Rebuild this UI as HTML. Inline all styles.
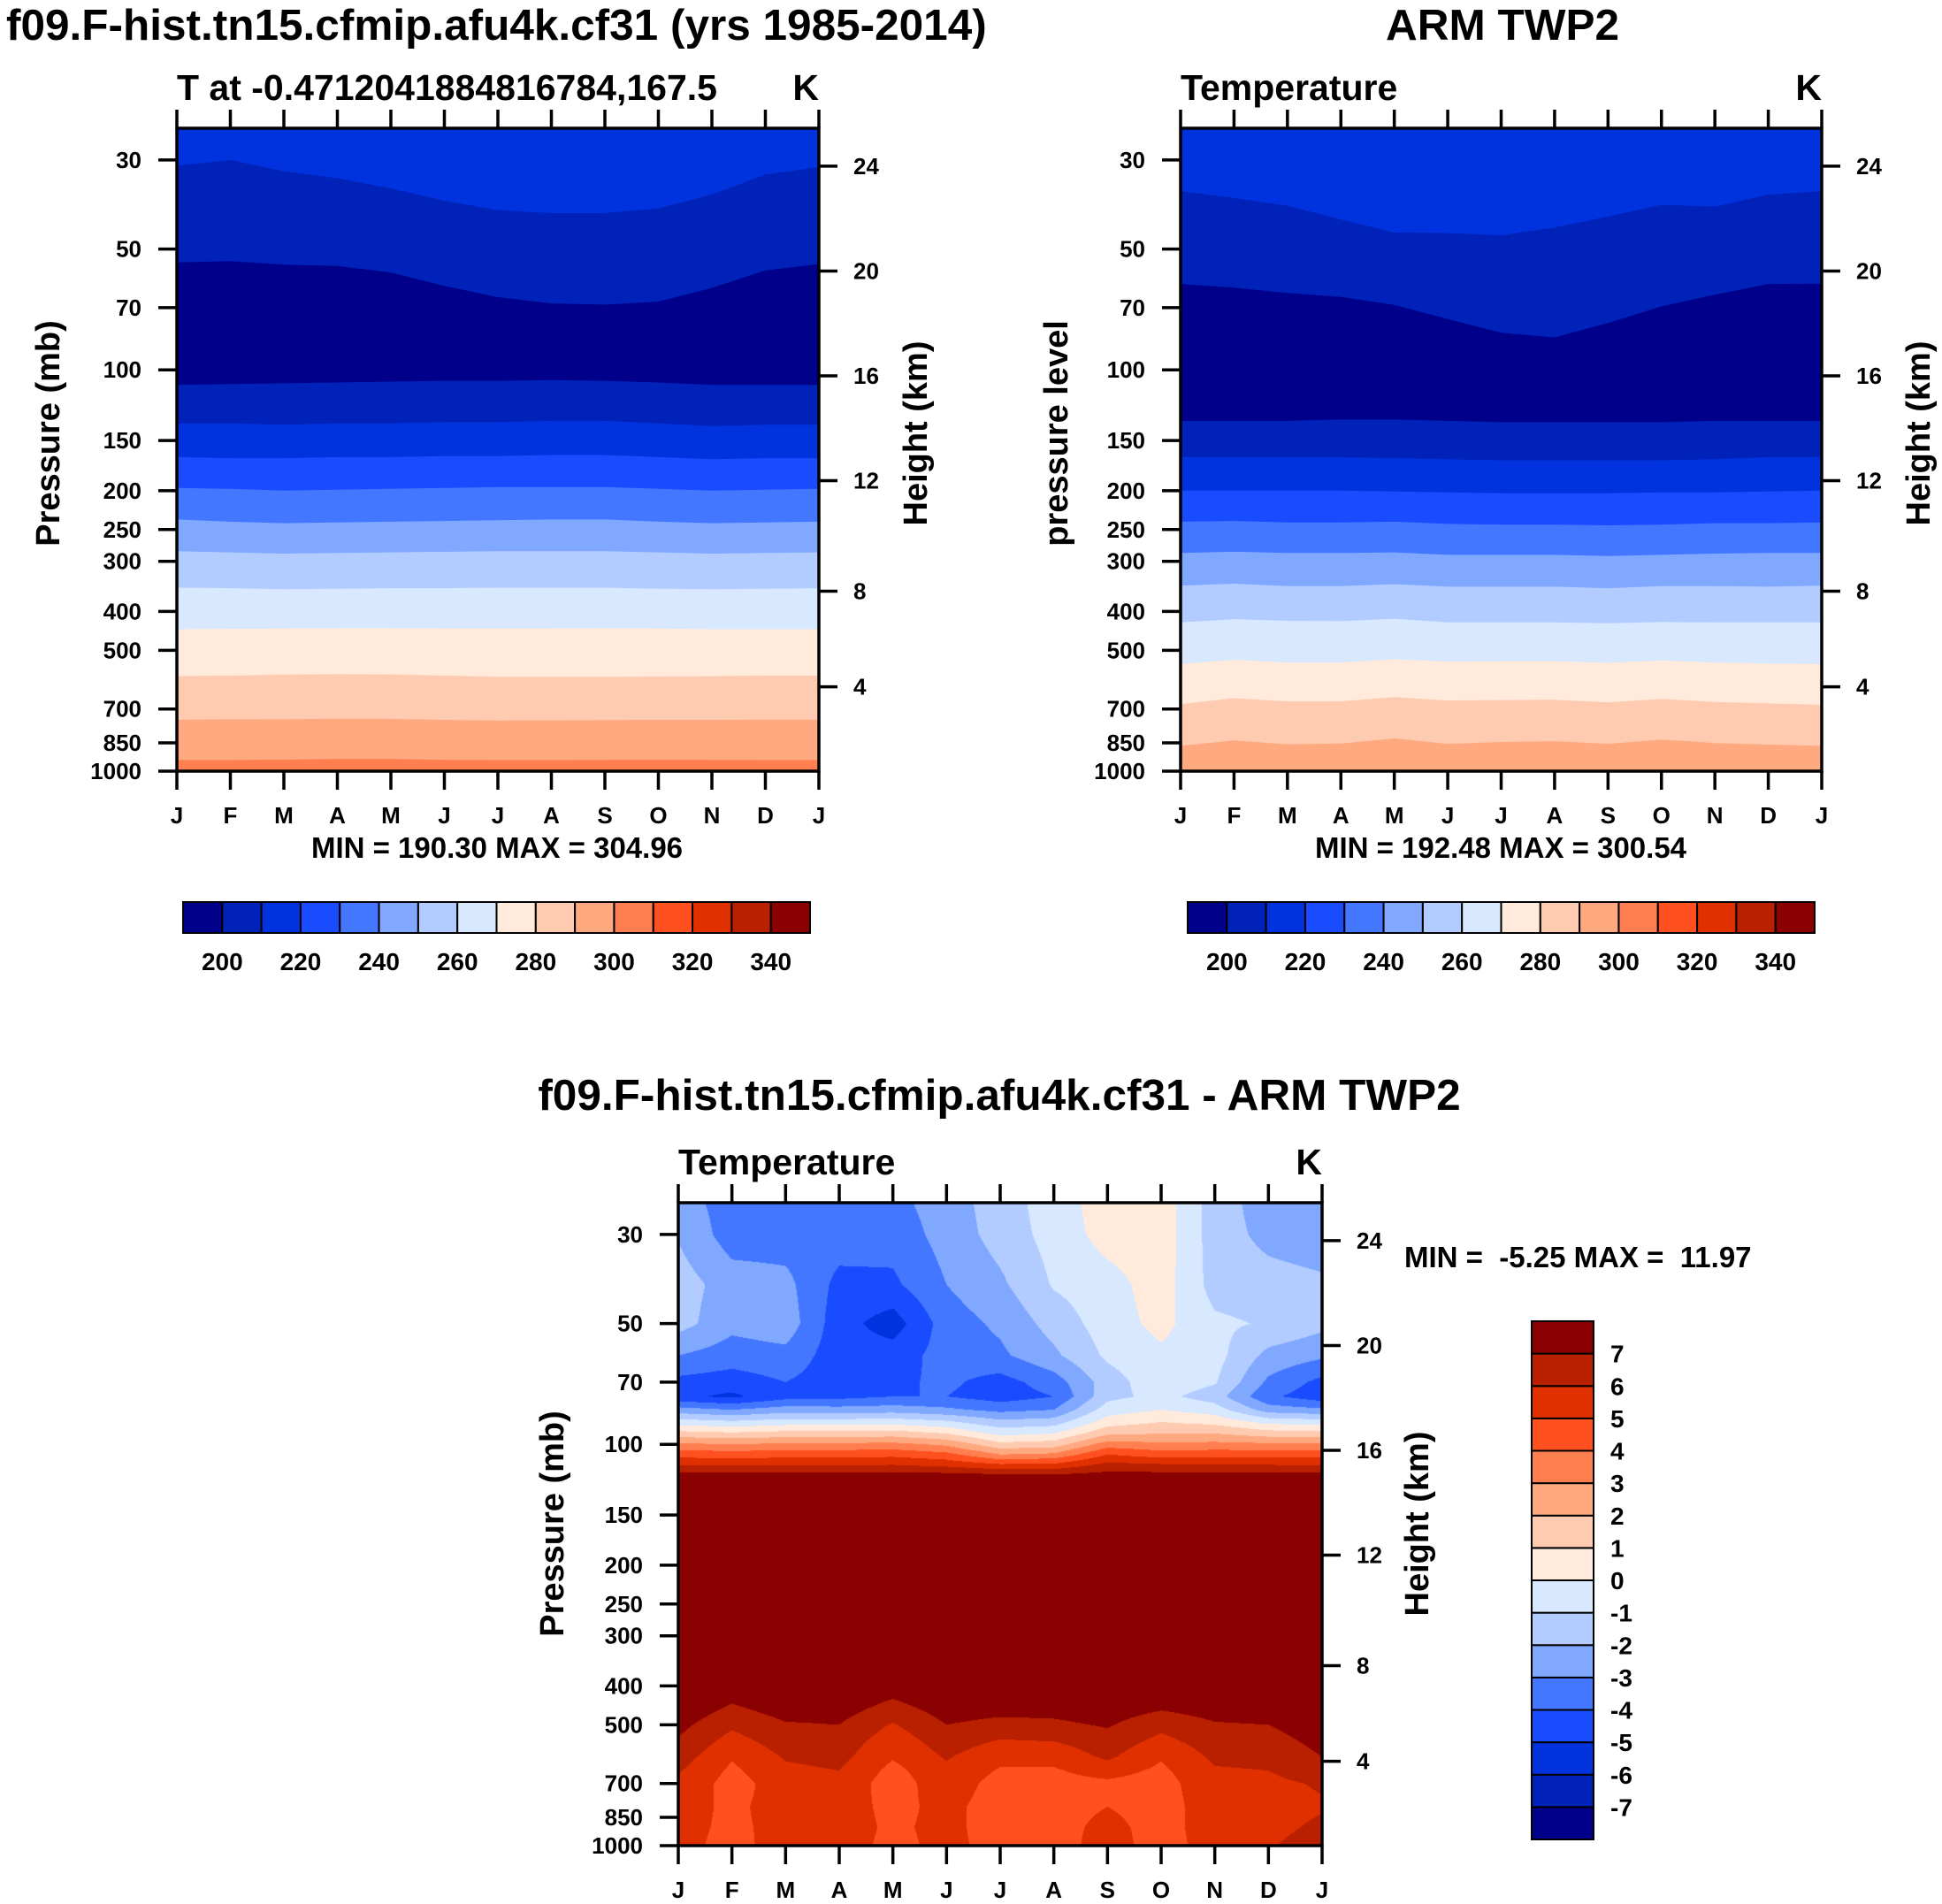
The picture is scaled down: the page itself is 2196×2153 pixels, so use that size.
<!DOCTYPE html>
<html><head><meta charset="utf-8">
<style>
html,body{margin:0;padding:0;background:#fff;}
#wrap{position:relative;width:2196px;height:2153px;overflow:hidden;}
#diffCanvas{position:absolute;left:767px;top:1360px;}
svg{position:absolute;left:0;top:0;}
text{font-family:"Liberation Sans",Arial,sans-serif;font-weight:bold;fill:#000;}
</style></head>
<body>
<div id="wrap">
<canvas id="diffCanvas" width="728" height="727"></canvas>
<svg id="fig" width="2196" height="2153" viewBox="0 0 2196 2153">
  <text x="7" y="45" font-size="49.5">f09.F-hist.tn15.cfmip.afu4k.cf31 (yrs 1985-2014)</text>
  <text x="1699" y="45" font-size="49.5" text-anchor="middle">ARM TWP2</text>
  <text x="1130" y="1255" font-size="49.5" text-anchor="middle">f09.F-hist.tn15.cfmip.afu4k.cf31 - ARM TWP2</text>
  <text x="200" y="113" font-size="41">T at -0.4712041884816784,167.5</text>
  <text x="926" y="113" font-size="41" text-anchor="end">K</text>
  <text x="1335" y="113" font-size="41">Temperature</text>
  <text x="2060" y="113" font-size="41" text-anchor="end">K</text>
  <text x="767" y="1328" font-size="41">Temperature</text>
  <text x="1495" y="1328" font-size="41" text-anchor="end">K</text>
  <text x="562" y="970" font-size="33" text-anchor="middle">MIN = 190.30 MAX = 304.96</text>
  <text x="1697" y="970" font-size="33" text-anchor="middle">MIN = 192.48 MAX = 300.54</text>
  <text x="1588" y="1433" font-size="33" xml:space="preserve">MIN =  -5.25 MAX =  11.97</text>
  <text transform="translate(67,490) rotate(-90)" font-size="38" text-anchor="middle">Pressure (mb)</text>
  <text transform="translate(1048,490) rotate(-90)" font-size="38" text-anchor="middle">Height (km)</text>
  <text transform="translate(1207,490) rotate(-90)" font-size="38" text-anchor="middle">pressure level</text>
  <text transform="translate(2182,490) rotate(-90)" font-size="38" text-anchor="middle">Height (km)</text>
  <text transform="translate(637,1723) rotate(-90)" font-size="38" text-anchor="middle">Pressure (mb)</text>
  <text transform="translate(1615,1723) rotate(-90)" font-size="38" text-anchor="middle">Height (km)</text>
</svg>
</div>
<script>
const months = ['J','F','M','A','M','J','J','A','S','O','N','D','J'];
const pressureTicks = [30,50,70,100,150,200,250,300,400,500,700,850,1000];
const heightTicks = [4,8,12,16,20,24];
const palette = ['#00008a','#0022b8','#0033dd','#1a4cff','#4477ff','#80a8ff','#b3ccff','#d7e8ff',
                 '#ffeadb','#ffcbb0','#ffa980','#ff7f50','#ff5020','#e03000','#b82000','#8b0000'];
const tempBarLabels = [200,220,240,260,280,300,320,340];
const diffBarLabels = [-7,-6,-5,-4,-3,-2,-1,0,1,2,3,4,5,6,7];

const modelTopColor = 2;
const modelBandColors = [1,0,1,2,3,4,5,6,7,8,9,10,11];
const modelBounds = [
 [31,30,32,33.3,35.3,37.9,40,40.7,40.7,39.6,36.6,32.6,31.2],
 [54,53.6,54.7,55.1,57.2,61.8,65.9,68.3,68.8,67.6,62.5,56.5,54.5],
 [109,108.5,108,107.5,107,106.5,106.5,106,106.5,107.5,109,109,109],
 [136,136,137,136,136,135,135,134,134,136,138,137,137],
 [165,166,166,165,165,164,164,163,163,165,167,166,166],
 [197,198,200,199,198,197,196,196,196,198,200,199,198],
 [236,239,241,240,239,238,237,236,236,239,241,240,239],
 [283,285,287,286,285,284,283,283,283,285,287,286,285],
 [349,350,352,351,350,350,349,349,349,351,352,351,350],
 [443,442,441,440,440,441,441,441,440,441,443,443,443],
 [580,578,575,573,574,578,582,582,582,581,580,578,578],
 [744,743,742,740,741,745,748,747,746,745,745,744,744],
 [938,938,936,932,932,937,938,938,937,937,937,938,938]
];
const obsTopColor = 2;
const obsBandColors = [1,0,1,2,3,4,5,6,7,8,9,10];
const obsBounds = [
 [35.9,37.3,39.0,42.2,45.5,45.6,46.2,44.2,41.5,38.8,39.2,36.6,35.9],
 [61.1,62.4,64.3,65.8,68.9,74.7,80.8,83.0,76.4,69.5,65.0,61.1,61.0],
 [134,134,134,133,133,134,135,135,135,135,134,134,134],
 [165,165,165,165,166,167,168,168,168,168,167,165,165],
 [200,200,200,200,201,202,203,203,203,202,202,201,200],
 [239,238,240,240,239,242,243,243,244,243,241,241,240],
 [286,284,286,286,285,289,289,289,291,289,287,286,286],
 [345,341,346,346,342,347,347,347,350,346,346,347,345],
 [426,418,422,423,417,426,426,426,428,425,426,426,426],
 [541,528,536,536,526,533,532,532,537,530,536,539,541],
 [681,658,670,670,654,667,665,664,674,661,672,678,683],
 [865,838,857,853,829,855,846,842,855,834,851,859,865]
];
const diffLevels = [25,30,40,50,60,70,76,82,88,94,100,106,112,120,200,300,400,450,500,550,600,650,700,800,900,1000];
const diffValues = [
 [-2.5,-3.5,-3.5,-3.2,-3.3,-2.5,-1.5,-0.5,0.5,0.6,-1.5,-2.5,-2.5],
 [-2.1,-3.5,-3.5,-3.5,-3.6,-2.6,-1.6,-0.6,0.4,0.6,-1.5,-2.3,-2.6],
 [-1.5,-2.5,-2.7,-4.3,-4.2,-3.0,-2.2,-0.9,-0.4,0.5,-1.4,-1.6,-1.8],
 [-1.6,-2.7,-2.4,-4.6,-5.5,-3.5,-2.8,-1.6,-0.5,0.3,-0.8,-1.1,-1.7],
 [-3.0,-3.5,-3.3,-4.6,-4.5,-3.6,-3.2,-2.2,-0.8,-0.2,-0.6,-2.3,-2.8],
 [-4.3,-4.5,-4.0,-4.6,-4.2,-3.8,-4.4,-3.5,-1.5,-0.3,-0.9,-3.2,-4.3],
 [-4.8,-5.2,-4.4,-4.3,-4.0,-4.0,-4.5,-4.0,-1.3,-0.7,-1.5,-3.8,-4.6],
 [-2.6,-3.0,-2.5,-2.6,-2.5,-2.8,-3.3,-3.0,-0.5,0.0,-0.5,-2.5,-2.8],
 [-0.5,-0.8,-0.5,-0.5,-0.4,-0.8,-1.7,-1.5,0.5,1.0,0.7,-0.3,-0.5],
 [1.4,1.2,1.4,1.4,1.5,1.0,-0.3,0.0,1.8,2.0,2.0,1.5,1.4],
 [3.2,3.0,3.2,3.2,3.3,2.8,1.3,1.5,3.5,3.2,3.3,3.2,3.2],
 [4.6,4.5,4.6,4.6,4.7,4.3,3.0,3.2,5.0,4.5,4.6,4.6,4.6],
 [5.8,5.8,5.8,5.8,5.9,5.6,5.0,5.1,6.2,6.0,6.0,5.9,5.8],
 [7.5,7.5,7.5,7.5,7.5,7.5,7.4,7.3,7.5,7.5,7.5,7.5,7.5],
 [8.5,8.5,8.5,8.5,8.5,8.5,8.5,8.5,8.5,8.5,8.5,8.5,8.5],
 [8.5,8.5,8.5,8.5,8.5,8.5,8.5,8.5,8.5,8.5,8.5,8.5,8.5],
 [8,7.6,8,8,7.5,8,7.8,7.8,8,7.6,8,8,8],
 [7.8,6.9,7.5,7.5,6.7,7.5,7.4,7.4,7.6,7.2,7.5,7.6,7.8],
 [7.3,6.2,6.9,7.0,5.9,7.0,6.7,6.8,7.1,6.3,6.9,7.0,7.6],
 [6.9,5.6,6.5,6.6,5.4,6.5,5.9,6.0,6.6,5.7,6.5,6.6,7.3],
 [6.5,5.1,6.1,6.3,5.1,6.1,5.3,5.3,6.2,5.1,6.2,6.3,7.0],
 [6.1,4.8,5.8,6.0,4.7,5.8,4.9,4.9,5.4,4.8,5.9,6.0,6.5],
 [5.8,4.6,5.5,5.7,4.5,5.6,4.6,4.7,4.8,4.6,5.7,5.8,6.1],
 [5.4,4.8,5.4,5.5,4.7,5.3,4.5,4.6,5.0,4.6,5.5,5.6,5.9],
 [5.3,4.8,5.3,5.5,4.8,5.3,4.5,4.6,5.3,4.6,5.5,5.7,6.2],
 [5.3,4.7,5.4,5.5,4.7,5.3,4.6,4.6,5.4,4.6,5.4,5.9,6.5]
];

const NS = 'http://www.w3.org/2000/svg';
const svg = document.getElementById('fig');
const P_TOP = 25, P_BOT = 1000;

function makeAxes(x0, y0, w, h) {
  return {
    x0, y0, w, h,
    xm: m => x0 + m * w / 12,
    yp: p => y0 + h * (Math.log(p) - Math.log(P_TOP)) / (Math.log(P_BOT) - Math.log(P_TOP))
  };
}
function heightToP(z) {
  if (z <= 11) return 1013.25 * Math.pow(1 - z / 44.33, 5.256);
  return 103.5 * Math.exp(-(z - 16) / 6.65);
}
function el(tag, attrs, parent) {
  const e = document.createElementNS(NS, tag);
  for (const k in attrs) e.setAttribute(k, attrs[k]);
  (parent || svg).appendChild(e);
  return e;
}

function drawBoundaryPanel(ax, bounds, topColor, bandColors, prefix) {
  const g = el('g', {});
  
  
  const bg = el('rect', {x: ax.x0, y: ax.y0, width: ax.w, height: ax.h, fill: palette[topColor]}, g);
  
  
  bounds.forEach((row, i) => {
    let pts = row.map((p, m) => ax.xm(m).toFixed(1) + ',' + ax.yp(p).toFixed(1));
    pts.push(ax.xm(12) + ',' + ax.yp(P_BOT));
    pts.push(ax.xm(0) + ',' + ax.yp(P_BOT));
    const poly = el('polygon', {points: pts.join(' '), fill: palette[bandColors[i]]}, g);
    
    
  });
}

function drawFrame(ax, prefix) {
  const x1 = ax.x0 + ax.w, y1 = ax.y0 + ax.h;
  const T = 21;
  const g = el('g', {stroke: '#000', 'stroke-width': 3.5, fill: 'none'});
  
  
  const fr = el('rect', {x: ax.x0, y: ax.y0, width: ax.w, height: ax.h}, g);
  
  
  pressureTicks.forEach(p => {
    const y = ax.yp(p);
    const t = el('line', {x1: ax.x0 - T, x2: ax.x0, y1: y, y2: y}, g);
    
    
    const lb = el('text', {x: ax.x0 - 40, y: y + 9, 'font-size': 26, 'text-anchor': 'end', stroke: 'none'});
    lb.textContent = p;
    
    
  });
  heightTicks.forEach(z => {
    const y = ax.yp(heightToP(z));
    const t = el('line', {x1: x1, x2: x1 + T, y1: y, y2: y}, g);
    
    
    const lb = el('text', {x: x1 + 39, y: y + 9, 'font-size': 26, stroke: 'none'});
    lb.textContent = z;
    
    
  });
  months.forEach((mo, m) => {
    const x = ax.xm(m);
    const tt = el('line', {x1: x, x2: x, y1: ax.y0 - T, y2: ax.y0}, g);
    
    
    const tb = el('line', {x1: x, x2: x, y1: y1, y2: y1 + T}, g);
    
    
    const lb = el('text', {x: x, y: y1 + 59, 'font-size': 26, 'text-anchor': 'middle', stroke: 'none'});
    lb.textContent = mo;
    
    
  });
}

function drawHBar(x0, y0, w, h, prefix) {
  const bw = w / palette.length;
  palette.forEach((c, i) => {
    const r = el('rect', {x: x0 + i * bw, y: y0, width: bw, height: h, fill: c, stroke: '#000', 'stroke-width': 2});
    
    
  });
  tempBarLabels.forEach(v => {
    const k = (v - 200) / 10;
    const t = el('text', {x: x0 + (k + 1) * bw, y: y0 + h + 42, 'font-size': 28, 'text-anchor': 'middle'});
    t.textContent = v;
    
    
  });
}
function drawVBar(x0, y0, w, h, prefix) {
  const bh = h / palette.length;
  palette.forEach((c, i) => {
    const r = el('rect', {x: x0, y: y0 + h - (i + 1) * bh, width: w, height: bh, fill: c, stroke: '#000', 'stroke-width': 2});
    
    
  });
  diffBarLabels.forEach(v => {
    const k = v + 7;
    const t = el('text', {x: x0 + w + 19, y: y0 + h - (k + 1) * bh + 10, 'font-size': 28});
    t.textContent = v;
    
    
  });
}

function drawDiffCanvas(ax) {
  const cv = document.getElementById('diffCanvas');
  const ctx = cv.getContext('2d');
  const W = cv.width, H = cv.height;
  const img = ctx.createImageData(W, H);
  const rgb = palette.map(c => [parseInt(c.substr(1,2),16), parseInt(c.substr(3,2),16), parseInt(c.substr(5,2),16)]);
  const lnLev = diffLevels.map(Math.log);
  const lt = Math.log(P_TOP), lb = Math.log(P_BOT);
  for (let py = 0; py < H; py++) {
    const lp = lt + (py + 0.5) / H * (lb - lt);
    let j = 0;
    while (j < lnLev.length - 2 && lnLev[j + 1] < lp) j++;
    let fy = (lp - lnLev[j]) / (lnLev[j + 1] - lnLev[j]);
    fy = Math.max(0, Math.min(1, fy));
    const r0 = diffValues[j], r1 = diffValues[j + 1];
    for (let px = 0; px < W; px++) {
      const m = (px + 0.5) / W * 12;
      let i = Math.min(11, Math.floor(m));
      const fx = m - i;
      const v = (r0[i] * (1 - fx) + r0[i + 1] * fx) * (1 - fy) + (r1[i] * (1 - fx) + r1[i + 1] * fx) * fy;
      let ci = Math.floor(v) + 8;
      ci = Math.max(0, Math.min(15, ci));
      const o = (py * W + px) * 4, c = rgb[ci];
      img.data[o] = c[0]; img.data[o + 1] = c[1]; img.data[o + 2] = c[2]; img.data[o + 3] = 255;
    }
  }
  ctx.putImageData(img, 0, 0);
}

const axModel = makeAxes(200, 145, 726, 727);
const axObs = makeAxes(1335, 145, 725, 727);
const axDiff = makeAxes(767, 1360, 728, 727);

drawBoundaryPanel(axModel, modelBounds, modelTopColor, modelBandColors, 'model');
drawBoundaryPanel(axObs, obsBounds, obsTopColor, obsBandColors, 'obs');
drawDiffCanvas(axDiff);
drawFrame(axModel, 'model');
drawFrame(axObs, 'obs');
drawFrame(axDiff, 'difference');
drawHBar(207, 1020, 709, 35, 'model');
drawHBar(1343, 1020, 709, 35, 'obs');
drawVBar(1732, 1494, 70, 586, 'difference');
</script>
</body></html>
